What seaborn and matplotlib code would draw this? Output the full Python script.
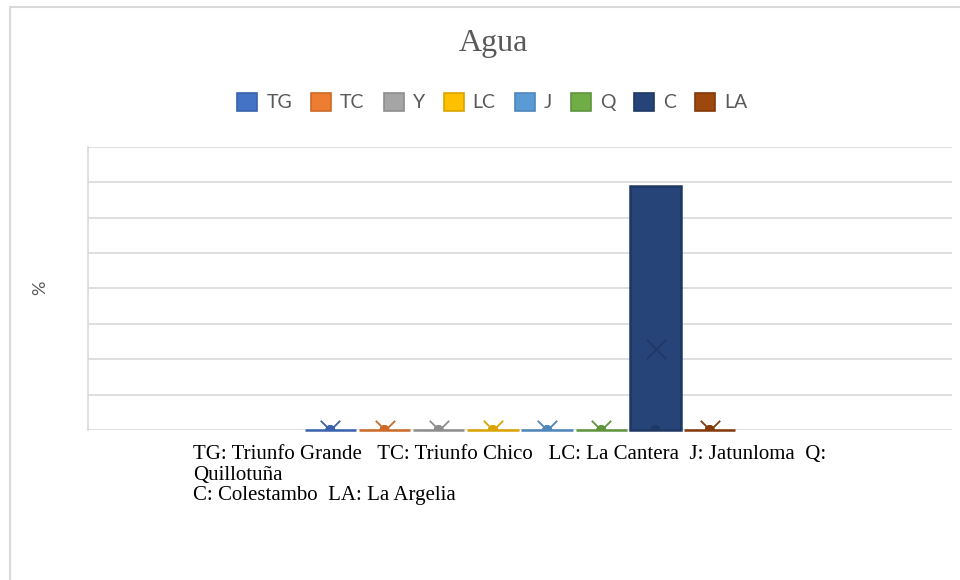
#!/usr/bin/env python3
"""
Agua - box-and-whisker por sitio (estilo Excel)
"""

import numpy as np
import pandas as pd
import matplotlib
matplotlib.use("Agg")
import matplotlib.pyplot as plt
from matplotlib.patches import Patch
from matplotlib.lines import Line2D
import seaborn as sns

# --- Datos (%) ---
sitios = ["TG", "TC", "Y", "LC", "J", "Q", "C", "LA"]
agua_tg = [0, 0, 0]
agua_tc = [0, 0, 0]
agua_y = [0, 0, 0]
agua_lc = [0, 0, 0]
agua_j = [0, 0, 0]
agua_q = [0, 0, 0]
agua_c = [0, 0, 6.9]
agua_la = [0, 0, 0]

colores = ["#4472C4", "#ED7D31", "#A5A5A5", "#FFC000",
           "#5B9BD5", "#70AD47", "#264478", "#9E480E"]
bordes = ["#3A62AD", "#CC6A28", "#8E8E8E", "#D9A400",
          "#4E86BA", "#5F943C", "#1F3864", "#83390A"]

nota = ("TG: Triunfo Grande   TC: Triunfo Chico   LC: La Cantera  J: Jatunloma  Q:\n"
        "Quillotuña\n"
        "C: Colestambo  LA: La Argelia")

series = [agua_tg, agua_tc, agua_y, agua_lc, agua_j, agua_q, agua_c, agua_la]

# long table of raw values
df = pd.DataFrame({
    "grupo": "",
    "sitio": np.repeat(sitios, [len(s) for s in series]),
    "valor": np.concatenate(series).astype(float),
})

# Excel uses exclusive quartiles
stats = pd.DataFrame({
    "grupo": "",
    "sitio": sitios,
    "mediana": [np.median(s) for s in series],
    "q3": [np.percentile(s, 75, method="weibull") for s in series],
    "media": [np.mean(s) for s in series],
})

# inner points shown at the bottom of each box
puntos = df[df["valor"] <= df["sitio"].map(stats.set_index("sitio")["mediana"])]

sns.set_style("white")
plt.rcParams["font.family"] = ["Lato", "DejaVu Sans"]

fig = plt.figure(figsize=(9.6, 5.8), dpi=100)
ax = fig.add_axes([0.0917, 0.2586, 0.9, 0.488])

# boxes (Q1 = 0 for every site, so the box spans 0..Q3)
sns.barplot(data=stats, x="grupo", y="q3", hue="sitio", hue_order=sitios,
            palette=colores, saturation=1, width=0.8, gap=0.05,
            legend=False, ax=ax, zorder=3)
for patch, ec in zip(ax.patches, bordes):
    patch.set_edgecolor(ec)
    patch.set_linewidth(1.8)
    patch.set_clip_on(False)

# inner points
sns.stripplot(data=puntos, x="grupo", y="valor", hue="sitio", hue_order=sitios,
              palette=bordes, dodge=True, jitter=False, size=7,
              legend=False, ax=ax, zorder=4)

# mean markers
sns.stripplot(data=stats, x="grupo", y="media", hue="sitio", hue_order=sitios,
              palette=bordes, dodge=True, jitter=False, marker="x", size=14,
              linewidth=1.3, legend=False, ax=ax, zorder=5)

ax.set_xlim(-0.797, 0.797)
ax.set_ylim(0, 8)
ax.set_yticks(range(0, 9))
ax.set_yticklabels([])
ax.set_xticks([])
ax.set_xlabel("")
ax.set_ylabel("")
ax.grid(axis="y", color="#D9D9D9", linewidth=1.2, zorder=0)
ax.tick_params(left=False, bottom=False)
for side in ["top", "right", "bottom"]:
    ax.spines[side].set_visible(False)
ax.spines["left"].set_color("#D9D9D9")
ax.spines["left"].set_linewidth(1.2)

fig.text(0.042, 0.503, "%", rotation=90, ha="center", va="center",
         fontsize=13, color="#595959")

fig.text(0.514, 0.925, "Agua", ha="center", va="center", fontsize=23,
         color="#595959", family="Liberation Serif")

handles = [Patch(facecolor=c, edgecolor=e, linewidth=1.2)
           for c, e in zip(colores, bordes)]
fig.legend(handles, sitios, loc="center", bbox_to_anchor=(0.513, 0.824),
           ncol=8, frameon=False, fontsize=14, handlelength=1.03,
           handleheight=1.03, handletextpad=0.46, columnspacing=0.98,
           labelcolor="#595959")

fig.text(0.201, 0.232, nota, ha="left", va="top", fontsize=15,
         family="Liberation Serif", color="black", linespacing=1.10)

# chart border
fig.add_artist(Line2D([0.0104, 0.0104], [0, 0.988], transform=fig.transFigure,
                      color="#D9D9D9", linewidth=1.5))
fig.add_artist(Line2D([0.0104, 1.0], [0.988, 0.988], transform=fig.transFigure,
                      color="#D9D9D9", linewidth=1.5))

fig.savefig("out.png", dpi=100)
plt.close(fig)
print("[OK] out.png")
